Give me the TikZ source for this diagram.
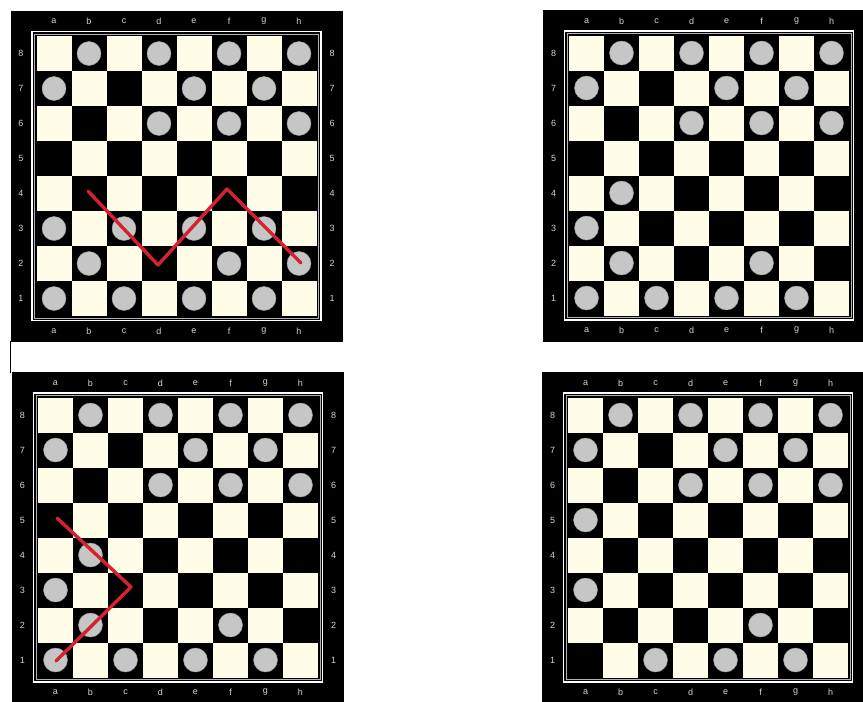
\documentclass[tikz,border=0pt]{standalone}
\usepackage{fontspec}
\newfontfamily\lblfont{Liberation Sans}
\definecolor{cream}{HTML}{FFFDE8}
\definecolor{piecegray}{HTML}{C6C6C6}
\definecolor{lblgray}{HTML}{D4D4D4}
\definecolor{moveRed}{HTML}{D42230}
\tikzset{
  lightsq/.style={fill=cream},
  piece/.style={fill=piecegray, draw=piecegray!80!black, line width=0.4pt},
  framew/.style={draw=white, line width=1.8pt},
  frameg/.style={draw=gray!60, line width=0.5pt},
  lbl/.style={text=lblgray, font=\lblfont\fontsize{9}{9}\selectfont, inner sep=0pt},
  movepath/.style={draw=moveRed, line width=3.4pt, line cap=round, line join=round},
}
% #1 name, #2 X, #3 Y, #4 pieces, #5 show right-hand numbers (1/0)
\newcommand\checkerboard[5]{%
  \begin{scope}[shift={(#2,#3)}]
    \fill[black] (-26,-25.5) rectangle (306,306);
    \draw[framew] (-4.5,-4.5) rectangle (284.5,284.5);
    \draw[frameg] (-2,-2) rectangle (282,282);
    \foreach \c in {1,...,8} {
      \foreach \r in {1,...,8} {
        \pgfmathtruncatemacro\sqparity{mod(\c+\r,2)}
        \ifnum\sqparity=1
          \fill[lightsq] ({(\c-1)*35},{(8-\r)*35}) rectangle ++(35,35);
        \fi
      }
    }
    \foreach \l [count=\i] in {a,b,c,d,e,f,g,h} {
      \node[lbl] (#1-top-\l) at ({(\i-0.5)*35},-14.5) {\l};
      \node[lbl] (#1-bot-\l) at ({(\i-0.5)*35},295) {\l};
    }
    \foreach \r in {1,...,8} {
      \node[lbl] (#1-left-\r) at (-15.5,{(8.5-\r)*35}) {\r};
      \ifnum#5=1
        \node[lbl] (#1-right-\r) at (295.5,{(8.5-\r)*35}) {\r};
      \fi
    }
    \foreach \c/\r in {#4} {
      \path[piece] ({(\c-0.5)*35},{(8.5-\r)*35}) circle[radius=12pt];
    }
  \end{scope}%
}
\begin{document}
\begin{tikzpicture}[x=1pt,y=-1pt]
  \useasboundingbox (0,0) rectangle (863,702);
  \fill[white] (0,0) rectangle (863,702);
  \clip (0,0) rectangle (863,702);
  \checkerboard{B1}{36.5}{36}{2/8,4/8,6/8,8/8,1/7,5/7,7/7,4/6,6/6,8/6,1/3,3/3,5/3,7/3,2/2,6/2,8/2,1/1,3/1,5/1,7/1}{1}
  \checkerboard{B2}{569}{35.5}{2/8,4/8,6/8,8/8,1/7,5/7,7/7,4/6,6/6,8/6,2/4,1/3,2/2,6/2,1/1,3/1,5/1,7/1}{0}
  \checkerboard{B3}{38}{397.5}{2/8,4/8,6/8,8/8,1/7,5/7,7/7,4/6,6/6,8/6,2/4,1/3,2/2,6/2,1/1,3/1,5/1,7/1}{1}
  \checkerboard{B4}{568}{397.5}{2/8,4/8,6/8,8/8,1/7,5/7,7/7,4/6,6/6,8/6,1/5,1/3,6/2,3/1,5/1,7/1}{0}
  % thin separator stroke at left
  \coordinate (sepA) at (10.5,341);
  \coordinate (sepB) at (10.5,373);
  \draw[black, line width=1.2pt] (sepA) -- (sepB);
  % move paths
  \coordinate (m1b4) at (88,191);
  \coordinate (m1d2) at (158,265);
  \coordinate (m1f4) at (227,189);
  \coordinate (m1h2) at (301,263);
  \draw[movepath] (m1b4) -- (m1d2) -- (m1f4) -- (m1h2);
  \coordinate (m3a1) at (56,661);
  \coordinate (m3c3) at (131,587);
  \coordinate (m3a5) at (57,518);
  \draw[movepath] (m3a1) -- (m3c3) -- (m3a5);
\end{tikzpicture}
\end{document}
